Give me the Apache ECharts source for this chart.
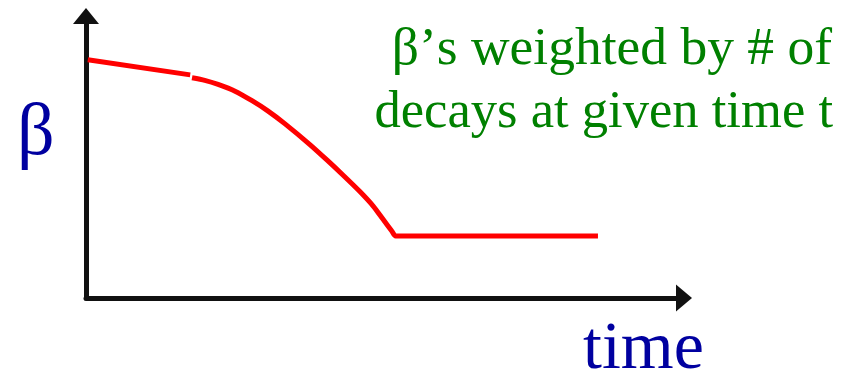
<!DOCTYPE html>
<html>
<head>
<meta charset="utf-8">
<script src="https://cdn.jsdelivr.net/npm/echarts@6/dist/echarts.min.js"></script>
<style>
  html, body { margin: 0; padding: 0; background: #fff; }
  #chart { width: 842px; height: 374px; }
</style>
</head>
<body>
<div id="chart"></div>
<script>
// beta vs time (time 0..100, beta 0..1)
var flatTime = [0.3, 17.2];
var flatBeta = [0.821, 0.769];
var dropTime = [17.5, 19.6, 21.8, 24.6, 27.4, 30.0, 32.8, 37.0, 39.8, 42.4, 45.2, 47.4, 49.0, 50.5, 51.1, 84.5];
var dropBeta = [0.759, 0.750, 0.736, 0.713, 0.680, 0.645, 0.601, 0.528, 0.475, 0.424, 0.367, 0.317, 0.272, 0.230, 0.214, 0.214];
var noteLines = ['β’s weighted by # of', 'decays at given time t'];

function pairs(xs, ys) {
    return xs.map(function (x, i) { return [x, ys[i]]; });
}

var myChart = echarts.init(document.getElementById('chart'));
var axisLine = {
    show: true,
    symbol: ['none', 'triangle'],
    lineStyle: { color: '#111', width: 5 }
};
var option = {
    animation: false,
    grid: { left: 86, right: 158, top: 16, bottom: 76 },
    xAxis: {
        type: 'value', min: 0, max: 98.7,
        axisLine: Object.assign({}, axisLine, { symbolSize: [27, 16] }),
        axisTick: { show: false }, axisLabel: { show: false }, splitLine: { show: false }
    },
    yAxis: {
        type: 'value', min: 0, max: 0.972,
        axisLine: Object.assign({}, axisLine, { symbolSize: [26, 16] }),
        axisTick: { show: false }, axisLabel: { show: false }, splitLine: { show: false }
    },
    series: [{
        type: 'line', data: pairs(flatTime, flatBeta), showSymbol: false,
        lineStyle: { color: '#ff0000', width: 5 }
    }, {
        type: 'line', data: pairs(dropTime, dropBeta), showSymbol: false,
        smooth: 0.25,
        lineStyle: { color: '#ff0000', width: 5 }
    }],
    graphic: [{
        type: 'text', left: 17, top: 98,
        style: { text: 'β', font: '74px "Liberation Serif"', fill: '#0000a0' }
    }, {
        type: 'text', left: 583, top: 316,
        style: { text: 'time', font: '68px "Liberation Serif"', fill: '#0000a0' }
    }, {
        type: 'text', right: 10, top: 23,
        style: { text: noteLines[0], font: '53.5px "Liberation Serif"', fill: '#008000' }
    }, {
        type: 'text', right: 9, top: 87,
        style: { text: noteLines[1], font: '52.6px "Liberation Serif"', fill: '#008000' }
    }]
};
myChart.setOption(option);
</script>
</body>
</html>
